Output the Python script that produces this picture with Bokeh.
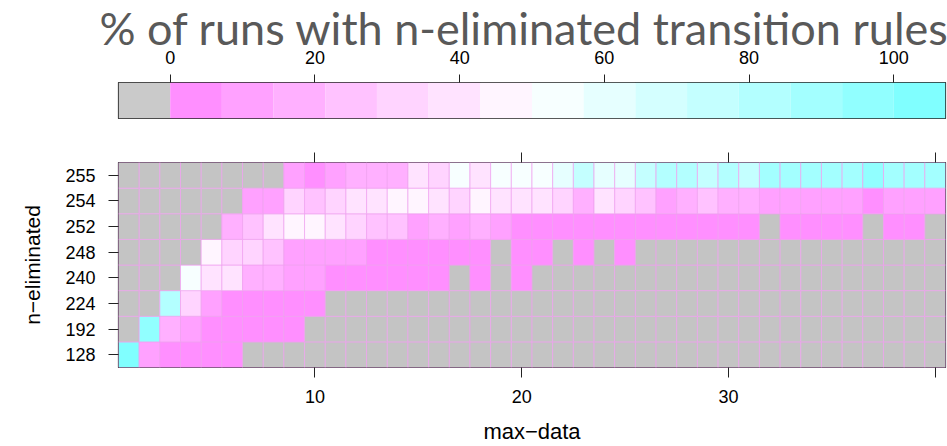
import numpy as np
from bokeh.plotting import figure
from bokeh.models import ColumnDataSource, Range1d, FactorRange, LinearAxis, FixedTicker
from bokeh.layouts import column
from bokeh.embed import file_html
from bokeh.resources import INLINE

NA = np.nan

# ---------------- data ----------------
max_data = list(range(1, 41))
n_eliminated = ["128", "192", "224", "240", "248", "252", "254", "255"]

pct_128 = [100, 11, 4, 3, 4, 5] + [NA] * 34
pct_192 = [NA, 95, 18, 12, 5, 4, 3, 4, 5] + [NA] * 31
pct_224 = [NA, NA, 82, 32, 11, 5, 4, 3, 4, 5] + [NA] * 30
pct_240 = [NA, NA, NA, 54, 39, 40, 18, 19, 11, 10, 5, 4, 6, 3, 4, 3, NA, 5, NA, 4] + [NA] * 20
pct_248 = [NA, NA, NA, NA, 47, 33, 32, 25, 11, 10, 11, 12, 4, 3, 4, 5, 6, 5, NA, 4,
           5, NA, 6, NA, 5] + [NA] * 15
pct_252 = [NA, NA, NA, NA, NA, 18, 25, 39, 47, 46, 40, 32, 26, 25, 11, 18, 12, 19, 11, 5,
           4, 4, 3, 4, 5, 4, 3, 4, 5, 4, 5, NA, 4, 5, 4, 3, NA, 5, 4, NA]
pct_254 = [NA, NA, NA, NA, NA, NA, 11, 12, 33, 26, 32, 40, 39, 46, 47, 39, 32, 46, 40, 39,
           38, 33, 18, 40, 32, 25, 11, 18, 26, 19, 18, 12, 11, 12, 13, 11, 5, 11, 12, 11]
pct_255 = [NA, NA, NA, NA, NA, NA, NA, NA, 10, 5, 11, 18, 19, 20, 39, 33, 54, 40, 55, 54,
           55, 61, 76, 62, 61, 75, 82, 83, 76, 82, 77, 89, 88, 90, 89, 88, 95, 89, 90, 89]

rows = {"128": pct_128, "192": pct_192, "224": pct_224, "240": pct_240,
        "248": pct_248, "252": pct_252, "254": pct_254, "255": pct_255}

x_ticks = [10, 20, 30, 40]
key_ticks = [0, 20, 40, 60, 80, 100]

# ---------------- colour scale ----------------
NA_COLOR = "#C4C4C4"
KEY_NA_COLOR = "#CACACA"
palette = [NA_COLOR,
           "#FF8FFF", "#FFA1FF", "#FFB0FF", "#FFC2FF", "#FFD4FF", "#FFE3FF", "#FFF5FF",
           "#F7FFFF", "#E6FFFF", "#D4FFFF", "#C4FFFF", "#B3FFFF", "#A3FFFF", "#91FFFF", "#80FFFF"]
key_palette = [KEY_NA_COLOR] + palette[1:]
step = 100.0 / 14
low = -step
high = 100.0 + step
breaks = [low + k * step for k in range(len(palette) + 1)]


def colour_of(v):
    if v is None or (isinstance(v, float) and np.isnan(v)):
        return NA_COLOR
    k = int(np.floor((v - low) / step + 1e-9))
    k = min(max(k, 1), len(palette) - 1)
    return palette[k]


xs, ys, vals, cols = [], [], [], []
for cat in n_eliminated:
    for xv, v in zip(max_data, rows[cat]):
        xs.append(xv)
        ys.append(cat)
        vals.append(v)
        cols.append(colour_of(v))
src = ColumnDataSource(dict(x=xs, y=ys, value=vals, color=cols))

TICK_FONT = "Liberation Sans"
W = 947

# ---------------- colour key (top) ----------------
key = figure(width=W, height=140, x_range=Range1d(low, high), y_range=Range1d(0, 1),
             output_backend="svg", toolbar_location=None,
             x_axis_location="above", y_axis_location=None,
             min_border_left=118, min_border_right=2, min_border_bottom=22, min_border_top=82)
key.quad(left=breaks[:-1], right=breaks[1:], bottom=0, top=1,
         fill_color=key_palette, line_color=None)
key.grid.visible = False
key.outline_line_color = "#222222"
key.outline_line_width = 1.2
ax = key.xaxis[0]
ax.ticker = FixedTicker(ticks=key_ticks)
ax.axis_line_color = None
ax.major_tick_out = 8
ax.major_tick_in = 0
ax.minor_tick_line_color = None
ax.major_tick_line_color = "#222222"
ax.major_label_standoff = 11
ax.major_label_text_font = TICK_FONT
ax.major_label_text_font_size = "18px"
ax.major_label_text_color = "black"
key.title.text = "% of runs with n-eliminated transition rules"
key.title.text_font = "Lato"
key.title.text_font_size = "45px"
key.title.text_font_style = "normal"
key.title.text_color = "#595959"
key.title.align = "left"
key.title.offset = -19
key.title.standoff = -14

# ---------------- heat map ----------------
p = figure(width=W, height=306, x_range=Range1d(0.5, 40.5), y_range=FactorRange(factors=n_eliminated),
           output_backend="svg", toolbar_location=None,
           min_border_left=118, min_border_right=2, min_border_top=22, min_border_bottom=78)
p.rect(x="x", y="y", width=1, height=1, source=src, fill_color="color",
       line_color="#EFA0EF", line_width=0.7)
p.grid.visible = False
p.outline_line_color = "#222222"
p.outline_line_width = 1.2

xa = p.xaxis[0]
xa.ticker = FixedTicker(ticks=x_ticks)
xa.major_label_overrides = {40: ""}
xa.axis_label = "max\u2212data"
xa.axis_label_text_font = TICK_FONT
xa.axis_label_text_font_size = "22px"
xa.axis_label_text_font_style = "normal"
xa.axis_label_standoff = 13
xa.major_label_standoff = 12

ya = p.yaxis[0]
ya.axis_label = "n\u2212eliminated"
ya.axis_label_text_font = TICK_FONT
ya.axis_label_text_font_size = "21px"
ya.axis_label_text_font_style = "normal"
ya.axis_label_standoff = 18
ya.major_label_standoff = 13

top_axis = LinearAxis(ticker=FixedTicker(ticks=x_ticks))
top_axis.major_label_overrides = {t: "" for t in x_ticks}
top_axis.major_label_standoff = 0
p.add_layout(top_axis, "above")

for a in (xa, ya, top_axis):
    a.axis_line_color = None
    a.major_tick_out = 10
    a.major_tick_in = 0
    a.minor_tick_line_color = None
    a.major_tick_line_color = "#222222"
    a.major_label_text_font = TICK_FONT
    a.major_label_text_color = "black"
    a.axis_label_text_color = "black"
xa.major_label_text_font_size = "18px"
ya.major_label_text_font_size = "18px"
top_axis.major_label_text_font_size = "18px"

layout = column(key, p)
open("out.html", "w").write(file_html(layout, INLINE))
